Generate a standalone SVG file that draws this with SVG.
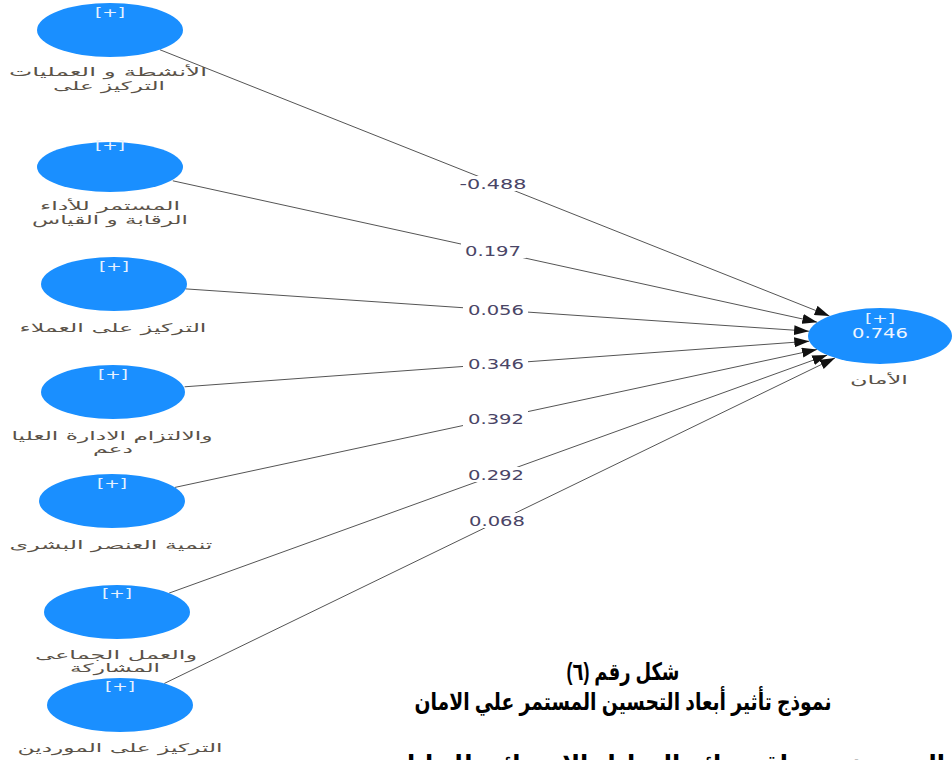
<svg xmlns="http://www.w3.org/2000/svg" width="952" height="760" viewBox="0 0 952 760">
  <style>
    .node { fill: #1a8fff; }
    .plus { fill: #e6f2ff; font-family: "DejaVu Sans", "Liberation Sans", sans-serif; font-size: 12px; text-anchor: middle; }
    .r2 { fill: #eef6ff; font-family: "DejaVu Sans", "Liberation Sans", sans-serif; font-size: 13.5px; text-anchor: middle; }
    .lbl { fill: #5a5248; font-family: "DejaVu Sans", "Liberation Sans", sans-serif; font-size: 12px; text-anchor: middle; }
    .edge { stroke: #555; stroke-width: 1; fill: none; marker-end: url(#arrow); }
    .coef { fill: #4a4566; font-family: "DejaVu Sans", "Liberation Sans", sans-serif; font-size: 13.5px; text-anchor: middle; }
    .coefbg { fill: #ffffff; }
    .cap { fill: #000; font-family: "Liberation Sans", "DejaVu Sans", sans-serif; font-size: 24px; font-weight: bold; text-anchor: middle; }
  </style>
  <defs>
    <marker id="arrow" markerUnits="userSpaceOnUse" markerWidth="15" markerHeight="10" refX="15" refY="5" orient="auto">
      <path d="M0,0 L15,5 L0,10 z" fill="#111"/>
    </marker>
  </defs>
  <rect width="952" height="760" fill="#ffffff"/>

  <!-- path coefficients -->
  <g id="connectors">
    <line class="edge" x1="159.8" y1="49.7" x2="829.6" y2="316.0"/>
    <line class="edge" x1="172.8" y1="180.8" x2="817.3" y2="322.2"/>
    <line class="edge" x1="185.8" y1="288.9" x2="809.1" y2="331.2"/>
    <line class="edge" x1="184.6" y1="386.8" x2="809.3" y2="341.2"/>
    <line class="edge" x1="175.0" y1="487.4" x2="817.0" y2="349.5"/>
    <line class="edge" x1="169.1" y1="593.1" x2="827.3" y2="355.1"/>
    <line class="edge" x1="164.2" y1="683.5" x2="835.0" y2="357.9"/>

    <rect class="coefbg" x="457" y="176" width="73" height="15"/>
    <text class="coef" x="493" y="189" textLength="67" lengthAdjust="spacingAndGlyphs">-0.488</text>
    <rect class="coefbg" x="461" y="243" width="65" height="15"/>
    <text class="coef" x="493" y="255.5" textLength="56" lengthAdjust="spacingAndGlyphs">0.197</text>
    <rect class="coefbg" x="463" y="302" width="65" height="15"/>
    <text class="coef" x="496" y="315" textLength="56" lengthAdjust="spacingAndGlyphs">0.056</text>
    <rect class="coefbg" x="463" y="356" width="65" height="15"/>
    <text class="coef" x="496" y="369" textLength="56" lengthAdjust="spacingAndGlyphs">0.346</text>
    <rect class="coefbg" x="463" y="411" width="65" height="15"/>
    <text class="coef" x="496" y="424" textLength="56" lengthAdjust="spacingAndGlyphs">0.392</text>
    <rect class="coefbg" x="463" y="467" width="65" height="15"/>
    <text class="coef" x="496" y="480" textLength="56" lengthAdjust="spacingAndGlyphs">0.292</text>
    <rect class="coefbg" x="464" y="513" width="65" height="15"/>
    <text class="coef" x="497" y="526" textLength="56" lengthAdjust="spacingAndGlyphs">0.068</text>
  </g>

  <g id="n1">
    <ellipse class="node" cx="110" cy="30" rx="73" ry="27"/>
    <text class="plus" x="110" y="17" textLength="30" lengthAdjust="spacingAndGlyphs">[+]</text>
    <text class="lbl" x="108" y="76" textLength="198" lengthAdjust="spacingAndGlyphs">الأنشطة و العمليات</text>
    <text class="lbl" x="109" y="90" textLength="112" lengthAdjust="spacingAndGlyphs">التركيز على</text>
  </g>
  <g id="n2">
    <ellipse class="node" cx="110" cy="167" rx="73" ry="25"/>
    <text class="plus" x="110" y="150" textLength="30" lengthAdjust="spacingAndGlyphs">[+]</text>
    <text class="lbl" x="110" y="210" textLength="140" lengthAdjust="spacingAndGlyphs">المستمر للأداء</text>
    <text class="lbl" x="110" y="224" textLength="156" lengthAdjust="spacingAndGlyphs">الرقابة و القياس</text>
  </g>
  <g id="n3">
    <ellipse class="node" cx="114" cy="284" rx="73" ry="27"/>
    <text class="plus" x="114" y="271" textLength="30" lengthAdjust="spacingAndGlyphs">[+]</text>
    <text class="lbl" x="113" y="332" textLength="187" lengthAdjust="spacingAndGlyphs">التركيز على العملاء</text>
  </g>
  <g id="n4">
    <ellipse class="node" cx="113" cy="392" rx="72" ry="27"/>
    <text class="plus" x="113" y="379" textLength="30" lengthAdjust="spacingAndGlyphs">[+]</text>
    <text class="lbl" x="112" y="440" textLength="201" lengthAdjust="spacingAndGlyphs">والالتزام الادارة العليا</text>
    <text class="lbl" x="113" y="453" textLength="40" lengthAdjust="spacingAndGlyphs">دعم</text>
  </g>
  <g id="n5">
    <ellipse class="node" cx="112" cy="501" rx="73" ry="27"/>
    <text class="plus" x="112" y="488" textLength="30" lengthAdjust="spacingAndGlyphs">[+]</text>
    <text class="lbl" x="111" y="549" textLength="203" lengthAdjust="spacingAndGlyphs">تنمية العنصر البشرى</text>
  </g>
  <g id="n6">
    <ellipse class="node" cx="117" cy="612" rx="73" ry="27"/>
    <text class="plus" x="117" y="598" textLength="30" lengthAdjust="spacingAndGlyphs">[+]</text>
    <text class="lbl" x="116" y="659" textLength="162" lengthAdjust="spacingAndGlyphs">والعمل الجماعى</text>
    <text class="lbl" x="115" y="672" textLength="90" lengthAdjust="spacingAndGlyphs">المشاركة</text>
  </g>
  <g id="n7">
    <ellipse class="node" cx="120" cy="705" rx="73" ry="27"/>
    <text class="plus" x="120" y="691" textLength="30" lengthAdjust="spacingAndGlyphs">[+]</text>
    <text class="lbl" x="120" y="752" textLength="205" lengthAdjust="spacingAndGlyphs">التركيز على الموردين</text>
  </g>
  <g id="target">
    <ellipse class="node" cx="880" cy="336" rx="72" ry="28"/>
    <text class="plus" x="880" y="323" textLength="30" lengthAdjust="spacingAndGlyphs">[+]</text>
    <text class="r2" x="880" y="338" textLength="56" lengthAdjust="spacingAndGlyphs">0.746</text>
    <text class="lbl" x="879" y="384" textLength="58" lengthAdjust="spacingAndGlyphs">الأمان</text>
  </g>

  <!-- caption -->
  <g id="caption">
    <text class="cap" x="623" y="680" textLength="113" lengthAdjust="spacingAndGlyphs">شكل رقم (٦)</text>
    <text class="cap" x="623" y="710" textLength="417" lengthAdjust="spacingAndGlyphs">نموذج تأثير أبعاد التحسين المستمر علي الامان</text>
    <text class="cap" x="664" y="772" textLength="562" lengthAdjust="spacingAndGlyphs">المصدر: من واقع نتائج التحليل الاحصائي للبيانات</text>
  </g>
</svg>
